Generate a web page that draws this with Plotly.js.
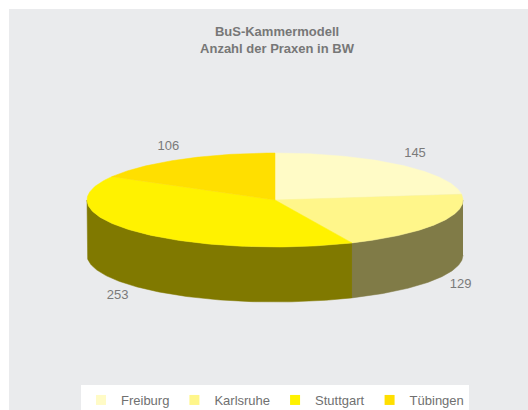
<!DOCTYPE html>
<html>
<head>
<meta charset="utf-8">
<script src="https://cdn.plot.ly/plotly-3.0.1.min.js"></script>
<style>html,body{margin:0;padding:0;background:#fff;overflow:hidden;}#chart{width:528px;height:410px;}</style>
</head>
<body>
<div id="chart"></div>
<script>
// ---- data ----
const labels = ['Freiburg', 'Karlsruhe', 'Stuttgart', 'Tübingen'];
const values = [145, 129, 253, 106];
const topColors = ['#FFFBC6', '#FFF68A', '#FFF200', '#FFDF00'];
const sideColors = ['#807D63', '#807B47', '#807900', '#807000'];

// ---- geometry of the tilted pie (pixel space) ----
const CX = 275, CY = 200, RX = 188, RY = 47, DEPTH = 55;
const total = values.reduce((a, b) => a + b, 0);
const rad = d => d * Math.PI / 180;
const px = (deg, k) => CX + RX * (k || 1) * Math.sin(rad(deg));
const py = (deg, k, dy) => CY - RY * (k || 1) * Math.cos(rad(deg)) + (dy || 0);

const traces = [];
const sideTraces = [], topTraces = [], labelX = [], labelY = [], labelT = [];
let start = 0;
values.forEach((v, i) => {
  const a0 = start, a1 = start + v / total * 360;
  start = a1;
  // side wall (only the front half, 90..270 deg, is visible)
  const s0 = Math.max(a0, 90), s1 = Math.min(a1, 270);
  if (s1 > s0) {
    const xs = [], ys = [];
    for (let d = s0; d <= s1 + 1e-9; d += (s1 - s0) / 120) { xs.push(px(d)); ys.push(py(d)); }
    for (let d = s1; d >= s0 - 1e-9; d -= (s1 - s0) / 120) { xs.push(px(d)); ys.push(py(d, 1, DEPTH)); }
    sideTraces.push({
      type: 'scatter', mode: 'lines', x: xs, y: ys, fill: 'toself',
      fillcolor: sideColors[i], line: {color: sideColors[i], width: 0.5},
      hoverinfo: 'skip', showlegend: false
    });
  }
  // top face
  const xs = [CX], ys = [CY];
  for (let d = a0; d <= a1 + 1e-9; d += (a1 - a0) / 150) { xs.push(px(d)); ys.push(py(d)); }
  xs.push(CX); ys.push(CY);
  topTraces.push({
    type: 'scatter', mode: 'lines', x: xs, y: ys, fill: 'toself',
    fillcolor: topColors[i], line: {color: topColors[i], width: 0.5},
    name: labels[i], text: labels[i] + ': ' + v, hoverinfo: 'text', showlegend: false
  });
  // data label outside the slice
  const mid = (a0 + a1) / 2;
  const c = Math.cos(rad(mid));
  labelX.push(px(mid, 1.13));
  labelY.push(py(mid, 1.3, c < 0 ? DEPTH : 0));
  labelT.push(String(v));
});

traces.push(...sideTraces, ...topTraces);
traces.push({
  type: 'scatter', mode: 'text', x: labelX, y: labelY, text: labelT,
  textfont: {family: 'Arial, "Liberation Sans", sans-serif', size: 13, color: '#7A7A7A'},
  hoverinfo: 'skip', showlegend: false
});
// legend entries
labels.forEach((l, i) => traces.push({
  type: 'scatter', mode: 'markers', x: [null], y: [null], name: l,
  marker: {symbol: 'square', size: 10, color: topColors[i]}, showlegend: true
}));

const layout = {
  width: 528, height: 410,
  margin: {l: 0, r: 0, t: 0, b: 0, autoexpand: false},
  paper_bgcolor: '#FFFFFF', plot_bgcolor: 'rgba(0,0,0,0)',
  font: {family: 'Arial, "Liberation Sans", sans-serif', color: '#777777'},
  title: {
    text: '<b>BuS-Kammermodell</b><br><b>Anzahl der Praxen in BW</b>',
    font: {family: 'Arial, "Liberation Sans", sans-serif', size: 13, color: '#777777'},
    x: 277 / 528, xanchor: 'center', y: 1 - 36 / 410, yanchor: 'middle', yref: 'paper'
  },
  xaxis: {range: [0, 528], visible: false, fixedrange: true, domain: [0, 1]},
  yaxis: {range: [410, 0], visible: false, fixedrange: true, domain: [0, 1]},
  shapes: [{type: 'rect', xref: 'x', yref: 'y', x0: 9, x1: 528, y0: 9, y1: 410,
            fillcolor: '#EAEBED', line: {width: 0}, layer: 'below'}],
  showlegend: true,
  legend: {
    orientation: 'h', x: 275 / 528, xanchor: 'center', y: 25 / 410, yanchor: 'top',
    bgcolor: '#FFFFFF', font: {size: 13, color: '#707070'}, traceorder: 'normal',
    itemwidth: 30, tracegroupgap: 0
  },
  hovermode: 'closest'
};

Plotly.newPlot('chart', traces, layout, {displayModeBar: false, staticPlot: false});
</script>
</body>
</html>
